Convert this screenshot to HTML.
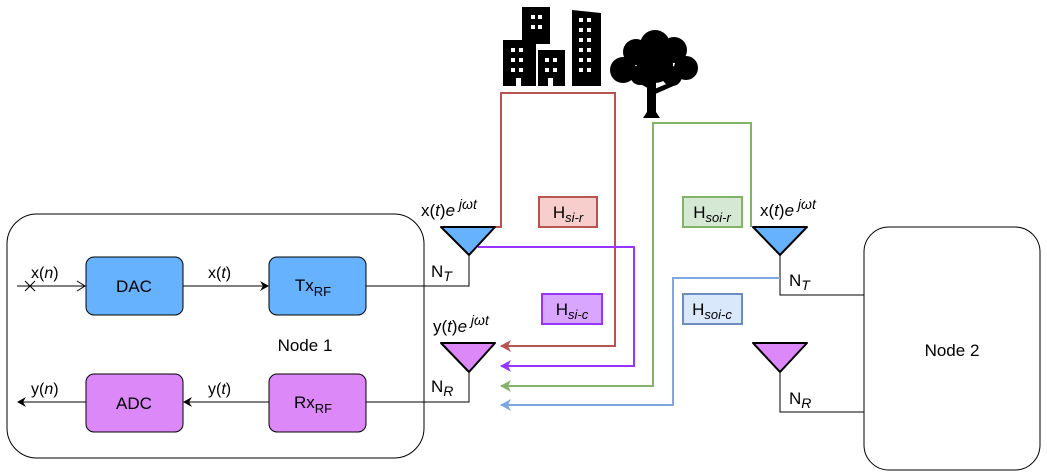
<!DOCTYPE html>
<html><head><meta charset="utf-8"><style>
body{margin:0;background:#fff}
svg{display:block;font-family:"Liberation Sans",Arial,sans-serif}
</style></head><body>
<svg width="1047" height="476" viewBox="0 0 1047 476" xmlns="http://www.w3.org/2000/svg">
<defs>
<marker id="ak" markerWidth="10" markerHeight="10" refX="8" refY="5" orient="auto" markerUnits="userSpaceOnUse"><path d="M0,0 L9,5 L0,10 L3,5z" fill="#000"/></marker>
<marker id="ar" markerWidth="12" markerHeight="12" refX="10" refY="6" orient="auto" markerUnits="userSpaceOnUse"><path d="M0,0 L11,6 L0,12 L3,6z" fill="#b85450"/></marker>
<marker id="ap" markerWidth="12" markerHeight="12" refX="10" refY="6" orient="auto" markerUnits="userSpaceOnUse"><path d="M0,0 L11,6 L0,12 L3,6z" fill="#9933ff"/></marker>
<marker id="ag" markerWidth="12" markerHeight="12" refX="10" refY="6" orient="auto" markerUnits="userSpaceOnUse"><path d="M0,0 L11,6 L0,12 L3,6z" fill="#82b366"/></marker>
<marker id="ab" markerWidth="12" markerHeight="12" refX="10" refY="6" orient="auto" markerUnits="userSpaceOnUse"><path d="M0,0 L11,6 L0,12 L3,6z" fill="#7ea6e0"/></marker>
</defs>
<rect x="7" y="214" width="417" height="244" rx="30" fill="#fff" stroke="#000" stroke-width="1"/>
<rect x="86" y="257" width="97" height="58" rx="8" fill="#66b2ff" stroke="#000"/>
<rect x="269" y="257" width="97" height="58" rx="8" fill="#66b2ff" stroke="#000"/>
<rect x="86" y="374" width="97" height="58" rx="8" fill="#dd88f8" stroke="#000"/>
<rect x="269" y="374" width="97" height="58" rx="8" fill="#dd88f8" stroke="#000"/>
<line x1="17" y1="286" x2="85" y2="286" stroke="#000"/>
<path d="M77,281 L85,286 L77,291" fill="none" stroke="#000"/>
<path d="M25,281 L35,291 M35,281 L25,291" stroke="#000"/>
<line x1="183" y1="286" x2="268" y2="286" stroke="#000" marker-end="url(#ak)"/>
<line x1="269" y1="402" x2="184" y2="402" stroke="#000" marker-end="url(#ak)"/>
<line x1="86" y1="402" x2="18" y2="402" stroke="#000" marker-end="url(#ak)"/>
<path d="M366,286 L469,286 L469,255" fill="none" stroke="#000"/>
<path d="M366,402 L469,402 L469,372" fill="none" stroke="#000"/>
<path d="M864,295 L780,295 L780,255" fill="none" stroke="#000"/>
<path d="M864,412 L780,412 L780,372" fill="none" stroke="#000"/>
<rect x="864" y="227" width="176" height="243" rx="25" fill="#fff" stroke="#000"/>
<g font-size="17" text-anchor="middle">
<text x="134" y="292">DAC</text>
<text x="134" y="409">ADC</text>
<text x="313" y="291">Tx<tspan font-size="13" dy="5">RF</tspan></text>
<text x="313" y="408">Rx<tspan font-size="13" dy="5">RF</tspan></text>
<text x="305" y="351">Node 1</text>
<text x="952" y="356">Node 2</text>
</g>
<g font-size="16">
<text x="31" y="278">x(<tspan font-style="italic">n</tspan>)</text>
<text x="208" y="278">x(<tspan font-style="italic">t</tspan>)</text>
<text x="31" y="394">y(<tspan font-style="italic">n</tspan>)</text>
<text x="208" y="394">y(<tspan font-style="italic">t</tspan>)</text>
</g>
<path d="M495,227 L501,227 L501,93 L615,93 L615,346 L501,346" fill="none" stroke="#b85450" stroke-width="2" marker-end="url(#ar)"/>
<path d="M478,247 L634,247 L634,366 L501,366" fill="none" stroke="#9933ff" stroke-width="2" marker-end="url(#ap)"/>
<path d="M751,227 L751,123 L653,123 L653,386 L501,386" fill="none" stroke="#82b366" stroke-width="2" marker-end="url(#ag)"/>
<path d="M780,278 L673,278 L673,405 L501,405" fill="none" stroke="#7ea6e0" stroke-width="2" marker-end="url(#ab)"/>
<path d="M441,227 L495,227 L469,255 Z" fill="#66b2ff" stroke="#000" stroke-width="2" stroke-linejoin="round"/>
<path d="M441,343 L495,343 L469,372 Z" fill="#dd88f8" stroke="#000" stroke-width="2" stroke-linejoin="round"/>
<path d="M753,227 L807,227 L780,255 Z" fill="#66b2ff" stroke="#000" stroke-width="2" stroke-linejoin="round"/>
<path d="M753,343 L807,343 L780,372 Z" fill="#dd88f8" stroke="#000" stroke-width="2" stroke-linejoin="round"/>
<g font-size="17">
<text x="421" y="216">x(<tspan font-style="italic">t</tspan>)<tspan font-style="italic">e</tspan><tspan font-size="14" font-style="italic" dy="-7"> jωt</tspan></text>
<text x="433" y="332">y(<tspan font-style="italic">t</tspan>)<tspan font-style="italic">e</tspan><tspan font-size="14" font-style="italic" dy="-7"> jωt</tspan></text>
<text x="760" y="216">x(<tspan font-style="italic">t</tspan>)<tspan font-style="italic">e</tspan><tspan font-size="14" font-style="italic" dy="-7"> jωt</tspan></text>
<text x="431" y="277">N<tspan font-size="14" font-style="italic" dy="4">T</tspan></text>
<text x="431" y="392">N<tspan font-size="14" font-style="italic" dy="4">R</tspan></text>
<text x="789" y="286">N<tspan font-size="14" font-style="italic" dy="4">T</tspan></text>
<text x="789" y="404">N<tspan font-size="14" font-style="italic" dy="4">R</tspan></text>
</g>
<rect x="539" y="197" width="58" height="30" fill="#f8cecc" stroke="#b85450" stroke-width="2"/>
<rect x="683" y="197" width="59" height="30" fill="#d5e8d4" stroke="#82b366" stroke-width="2"/>
<rect x="542" y="294" width="60" height="30" fill="#d9a6ff" stroke="#9933ff" stroke-width="2"/>
<rect x="683" y="294" width="59" height="30" fill="#dae8fc" stroke="#6c8ebf" stroke-width="2"/>
<g font-size="17" text-anchor="middle">
<text x="568" y="218">H<tspan font-size="13" font-style="italic" dy="4">si-r</tspan></text>
<text x="712" y="218">H<tspan font-size="13" font-style="italic" dy="4">soi-r</tspan></text>
<text x="572" y="315">H<tspan font-size="13" font-style="italic" dy="4">si-c</tspan></text>
<text x="712" y="315">H<tspan font-size="13" font-style="italic" dy="4">soi-c</tspan></text>
</g>
<g fill="#000">
<rect x="522" y="7" width="28" height="37"/>
<rect x="503" y="40" width="33" height="46"/>
<rect x="538" y="50" width="27" height="36"/>
<path d="M572,10 L601,13 L601,86 L572,86 Z"/>
</g>
<g fill="#fff">
<rect x="531" y="15" width="4" height="4"/><rect x="538" y="15" width="4" height="4"/>
<rect x="531" y="25" width="4" height="4"/><rect x="538" y="25" width="4" height="4"/>
<rect x="511" y="48" width="4" height="4"/><rect x="519" y="48" width="4" height="4"/>
<rect x="511" y="58" width="4" height="4"/><rect x="519" y="58" width="4" height="4"/>
<rect x="511" y="68" width="4" height="4"/><rect x="519" y="68" width="4" height="4"/>
<rect x="545" y="58" width="4" height="4"/><rect x="553" y="58" width="4" height="4"/>
<rect x="545" y="68" width="4" height="4"/><rect x="553" y="68" width="4" height="4"/>
<rect x="579" y="18" width="4" height="4"/><rect x="587" y="18" width="4" height="4"/>
<rect x="579" y="28" width="4" height="4"/><rect x="587" y="28" width="4" height="4"/>
<rect x="579" y="38" width="4" height="4"/><rect x="587" y="38" width="4" height="4"/>
<rect x="579" y="48" width="4" height="4"/><rect x="587" y="48" width="4" height="4"/>
<rect x="579" y="58" width="4" height="4"/><rect x="587" y="58" width="4" height="4"/>
<rect x="579" y="68" width="4" height="4"/><rect x="587" y="68" width="4" height="4"/>
<rect x="516" y="78" width="5" height="8"/><rect x="548" y="78" width="5" height="8"/>
</g>
<g fill="#000">
<circle cx="655" cy="45" r="15"/>
<circle cx="636" cy="52" r="13"/>
<circle cx="674" cy="50" r="13"/>
<circle cx="686" cy="68" r="12"/>
<circle cx="623" cy="70" r="13"/>
<circle cx="655" cy="65" r="18"/>
<circle cx="640" cy="75" r="10"/>
<circle cx="672" cy="76" r="10"/>
<path d="M647,78 L656,78 L656,112 L660,118 L643,118 L647,112 Z"/>
<path d="M651,90 L630,78 L633,75 L651,85 Z M652,90 L676,80 L678,84 L653,95 Z" />
</g>
</svg>
</body></html>
